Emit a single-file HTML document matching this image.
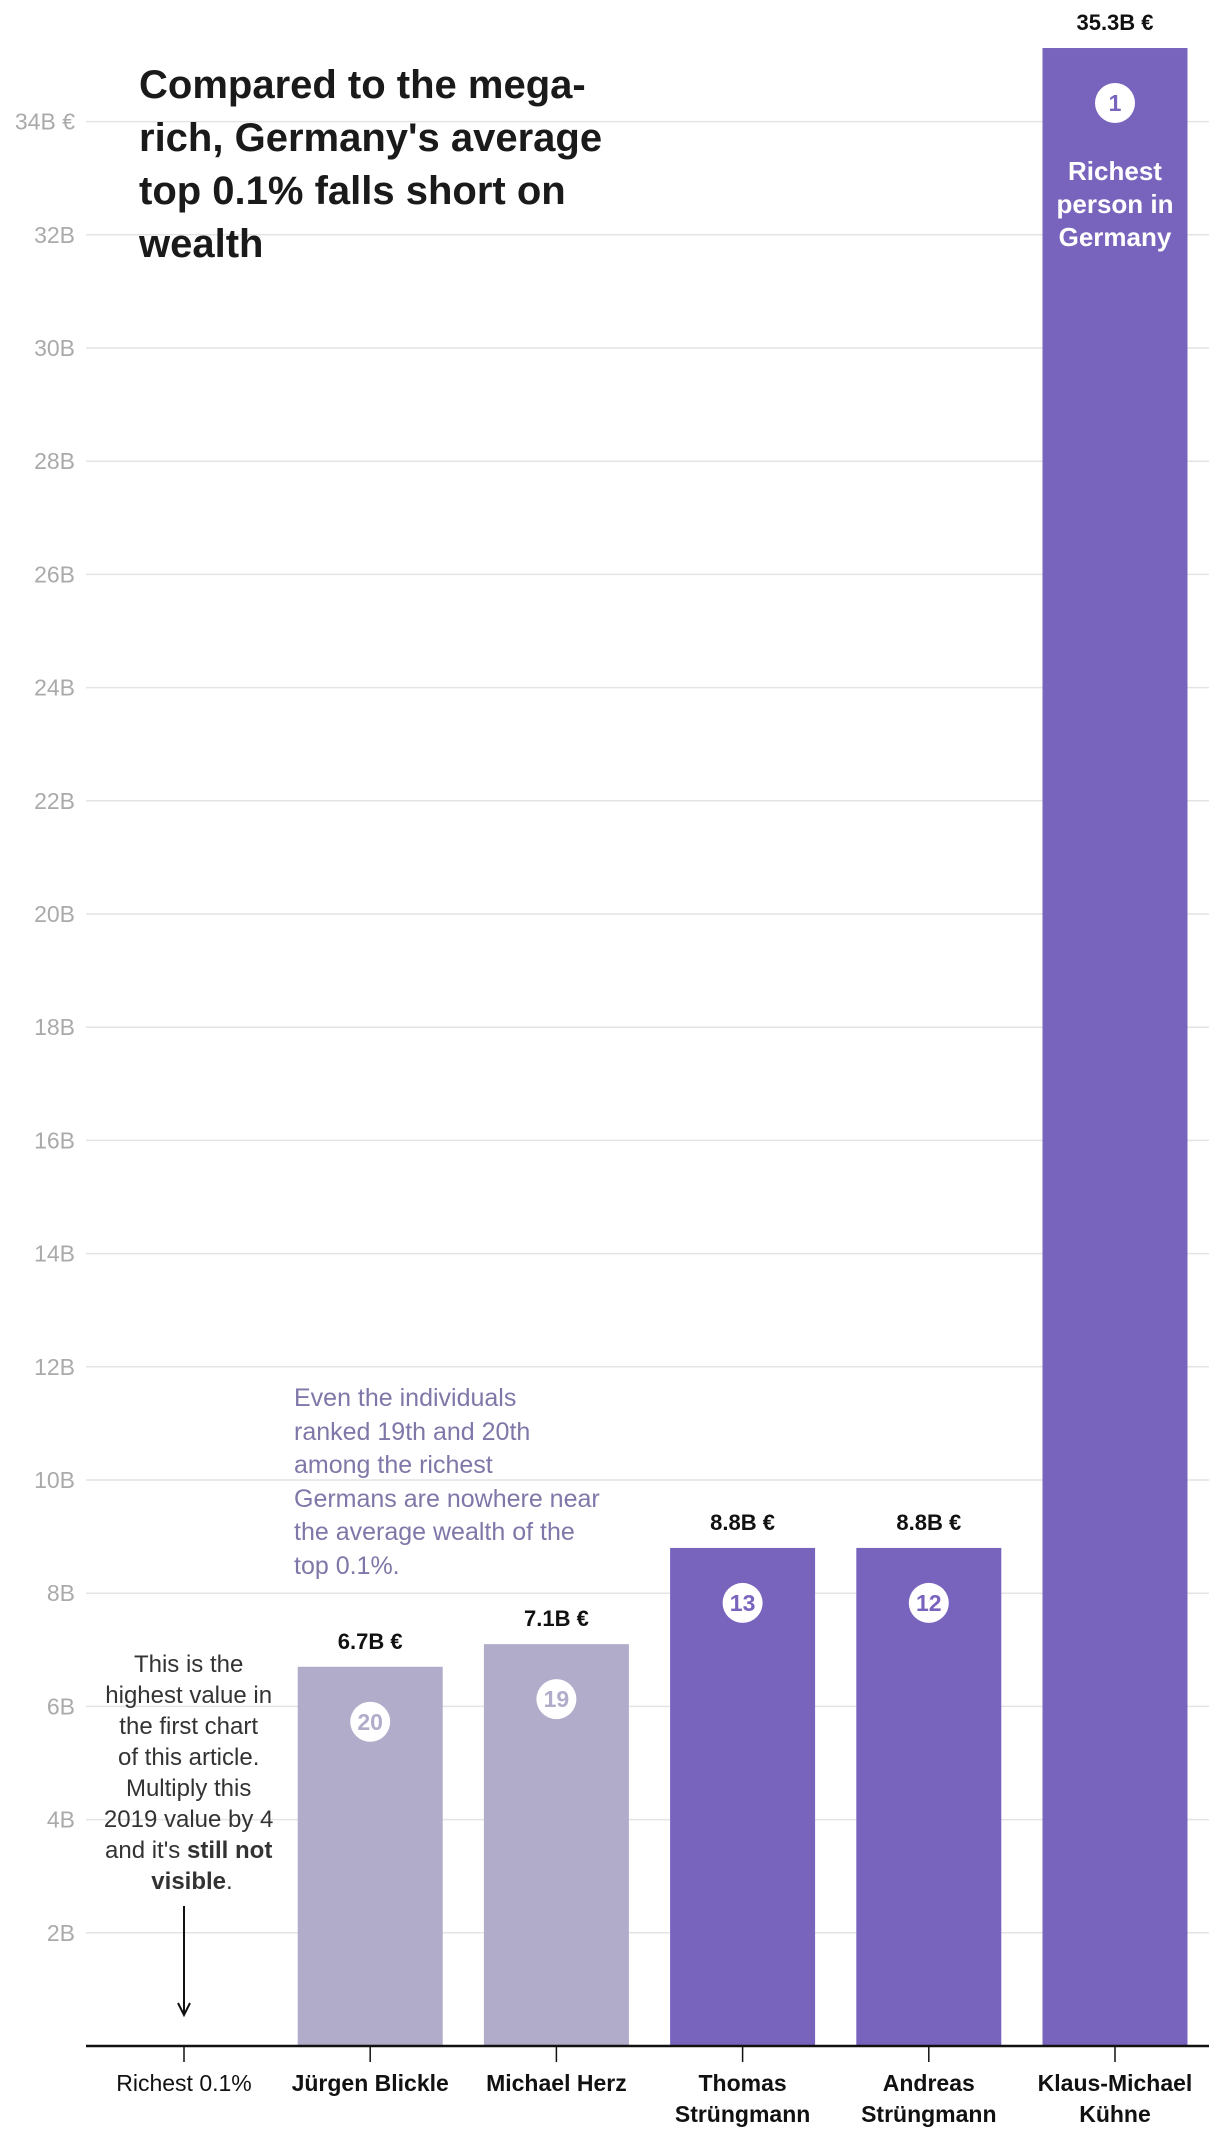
<!DOCTYPE html>
<html><head><meta charset="utf-8">
<style>
body{margin:0;background:#fff;}
svg{display:block;font-family:"Liberation Sans",sans-serif;}
</style></head>
<body>
<svg id="chart" width="1220" height="2138" viewBox="0 0 1220 2138" xmlns="http://www.w3.org/2000/svg">
<g id="grid"></g>
<g id="bars"></g>
<g id="xaxis"></g>
<text x="139" y="98" font-size="40" font-weight="bold" fill="#1a1a1a">
<tspan x="139" y="98">Compared to the mega-</tspan>
<tspan x="139" y="151">rich, Germany's average</tspan>
<tspan x="139" y="204">top 0.1% falls short on</tspan>
<tspan x="139" y="257">wealth</tspan>
</text>
<text font-size="25" fill="#7f77a8">
<tspan x="294" y="1406">Even the individuals</tspan>
<tspan x="294" y="1440">ranked 19th and 20th</tspan>
<tspan x="294" y="1473">among the richest</tspan>
<tspan x="294" y="1507">Germans are nowhere near</tspan>
<tspan x="294" y="1540">the average wealth of the</tspan>
<tspan x="294" y="1574">top 0.1%.</tspan>
</text>
<text font-size="24" fill="#333" text-anchor="middle">
<tspan x="192" y="1672">This is the</tspan>
<tspan x="192" y="1703">highest value in</tspan>
<tspan x="192" y="1734">the first chart</tspan>
<tspan x="192" y="1765">of this article.</tspan>
<tspan x="192" y="1796">Multiply this</tspan>
<tspan x="192" y="1827">2019 value by 4</tspan>
<tspan x="192" y="1858">and it's <tspan font-weight="bold">still not</tspan></tspan>
<tspan x="192" y="1889" font-weight="bold">visible<tspan font-weight="normal">.</tspan></tspan>
</text>
<g stroke="#111" stroke-width="2" fill="none">
<line x1="184" y1="1906" x2="184" y2="2015"/>
<polyline points="178,2003 184,2015 190,2003"/>
</g>
</svg>
<script>
const categories=["Richest 0.1%","Jürgen Blickle","Michael Herz","Thomas Strüngmann","Andreas Strüngmann","Klaus-Michael Kühne"];
const values=[0,6.7,7.1,8.8,8.8,35.3];
const valueLabels=["","6.7B €","7.1B €","8.8B €","8.8B €","35.3B €"];
const ranks=[null,20,19,13,12,1];
const tickValues=[2,4,6,8,10,12,14,16,18,20,22,24,26,28,30,32,34];
const NS="http://www.w3.org/2000/svg";
const y0=2046, pxPerB=56.6;
function yScale(v){return y0-v*pxPerB;}
const x0=184, step=186.2, bw=145;
function xScale(i){return x0+i*step;}
function mk(tag,attrs,parent){const e=document.createElementNS(NS,tag);for(const k in attrs)e.setAttribute(k,attrs[k]);parent.appendChild(e);return e;}
const grid=document.getElementById('grid');
tickValues.forEach(t=>{
  const y=yScale(t);
  const l=mk('line',{x1:86,x2:1209,y1:y,y2:y,stroke:'#e4e4e4','stroke-width':1.5},grid);
  
  
  const tx=mk('text',{x:75,y:y+8,'font-size':23,fill:'#aaa','text-anchor':'end'},grid);
  
  
  tx.textContent=t+'B'+(t===34?' €':'');
});
const bars=document.getElementById('bars');
categories.forEach((c,i)=>{
  const v=values[i]; if(v<=0) return;
  const cx=xScale(i), top=yScale(v);
  const col=i<3?'#b1acca':'#7964bd';
  const r=mk('rect',{x:cx-bw/2,y:top,width:bw,height:y0-top,fill:col},bars);
  
  
  const vl=mk('text',{x:cx,y:top-18,'font-size':22,'font-weight':'bold',fill:'#111','text-anchor':'middle'},bars);
  
  
  vl.textContent=valueLabels[i];
  if(ranks[i]!==null){
    const c1=mk('circle',{cx:cx,cy:top+55,r:20,fill:'#fff'},bars);
    
    
    const rt=mk('text',{x:cx,y:top+63,'font-size':23,'font-weight':'bold',fill:col,'text-anchor':'middle'},bars);
    
    
    rt.textContent=ranks[i];
  }
  if(ranks[i]===1){
    ['Richest','person in','Germany'].forEach((s,k)=>{
      const t=mk('text',{x:cx,y:top+132+k*33,'font-size':26,'font-weight':'bold',fill:'#fff','text-anchor':'middle'},bars);
      
      
      t.textContent=s;
    });
  }
});
const xa=document.getElementById('xaxis');
const ax=mk('line',{x1:86,x2:1209,y1:y0,y2:y0,stroke:'#111','stroke-width':2.5},xa);


categories.forEach((c,i)=>{
  const cx=xScale(i);
  const tk=mk('line',{x1:cx,x2:cx,y1:y0,y2:y0+16,stroke:'#111','stroke-width':1.5},xa);
  
  
  const parts=(i===0||i===1||i===2)?[c]:(i===5?['Klaus-Michael','Kühne']:c.split(' '));
  const t=mk('text',{'font-size':23,'font-weight':i===0?'normal':'bold',fill:'#111','text-anchor':'middle'},xa);
  
  
  parts.forEach((p,k)=>{const s=mk('tspan',{x:cx,y:2091+k*31},t);s.textContent=p;});
});
</script>
</body></html>
